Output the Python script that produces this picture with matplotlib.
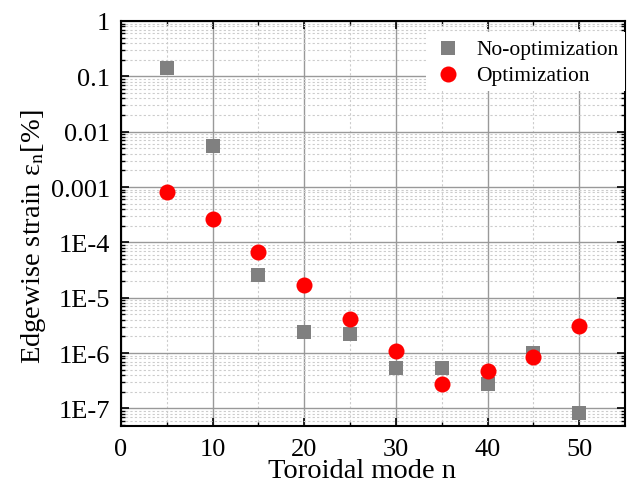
import numpy as np
import matplotlib.pyplot as plt
from matplotlib.ticker import LogLocator, FixedLocator, FuncFormatter, NullFormatter

plt.rcParams["font.family"] = ["Liberation Serif", "DejaVu Serif"]
plt.rcParams["mathtext.fontset"] = "stix"

# toroidal mode numbers and edgewise strain [%]
mode_n = [5, 10, 15, 20, 25, 30, 35, 40, 45, 50]
strain_no_opt = [0.14, 0.0056, 2.6e-5, 2.4e-6, 2.2e-6, 5.4e-7, 5.4e-7, 2.75e-7, 1.0e-6, 8.1e-8]
strain_opt = [8.1e-4, 2.6e-4, 6.6e-5, 1.67e-5, 4.2e-6, 1.08e-6, 2.7e-7, 4.7e-7, 8.5e-7, 3.1e-6]


def ylabel_fmt(v, pos):
    if v >= 1e-3:
        return "%g" % v
    return "1E%d" % int(round(np.log10(v)))


fig = plt.figure(figsize=(6.35, 4.89), dpi=100)
ax = fig.add_axes([121 / 635, 62 / 489, 504 / 635, 405 / 489])

ax.scatter(mode_n, strain_no_opt, marker="s", s=14 ** 2 * 0.52, color="#808080",
           label="No-optimization", zorder=3, linewidths=0)
ax.scatter(mode_n, strain_opt, marker="o", s=16 ** 2 * 0.52, color="#ff0000",
           label="Optimization", zorder=3, linewidths=0)

ax.set_yscale("log")
ax.set_xlim(0, 55)
ax.set_ylim(4.8e-8, 1)

ax.xaxis.set_major_locator(FixedLocator([0, 10, 20, 30, 40, 50]))
ax.xaxis.set_minor_locator(FixedLocator([5, 15, 25, 35, 45]))
ax.yaxis.set_major_locator(LogLocator(base=10, numticks=12))
ax.yaxis.set_minor_locator(LogLocator(base=10, subs=np.arange(2, 10), numticks=12))
ax.yaxis.set_major_formatter(FuncFormatter(ylabel_fmt))
ax.yaxis.set_minor_formatter(NullFormatter())

ax.grid(which="major", color="#999999", linewidth=1.0, linestyle="-")
ax.grid(which="minor", color="#cccccc", linewidth=0.8, linestyle=(0, (2, 2)))
ax.set_axisbelow(True)

ax.tick_params(which="both", direction="in", top=True, right=True, labelsize=19)
ax.tick_params(axis="y", which="major", pad=8)
ax.tick_params(axis="x", which="major", pad=9)
ax.tick_params(which="major", length=6, width=1.2)
ax.tick_params(which="minor", length=3, width=1.0)
for sp in ax.spines.values():
    sp.set_linewidth(1.5)

ax.set_xlabel("Toroidal mode n", fontsize=20.5)
ax.set_ylabel("Edgewise strain ε$_\\mathrm{n}$[%]", fontsize=20.5)
ax.xaxis.set_label_coords(0.478, -0.08)
ax.yaxis.set_label_coords(-0.145, 0.47)

leg = ax.legend(loc="upper right", bbox_to_anchor=(1.0, 0.972), fontsize=15.5,
                frameon=True, fancybox=False, edgecolor="none", framealpha=1.0,
                handletextpad=0.55, borderaxespad=0.0, labelspacing=0.28,
                handlelength=1.5, borderpad=0.3)

fig.savefig("out.png", dpi=100)
